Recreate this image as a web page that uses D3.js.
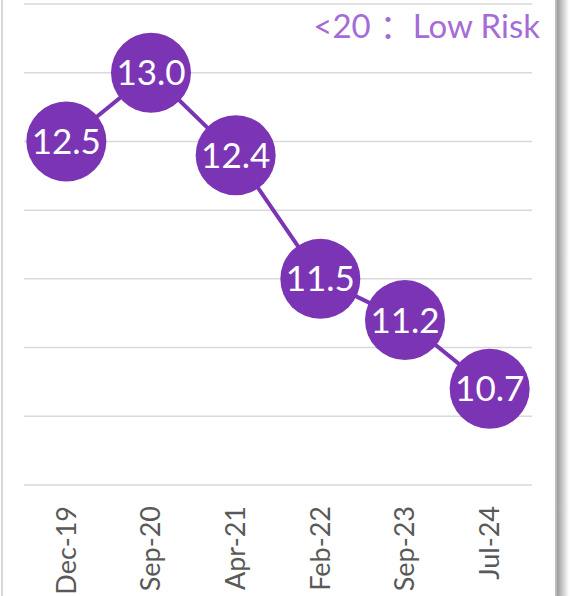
<!DOCTYPE html>
<html>
<head>
<meta charset="utf-8">
<script src="https://cdn.jsdelivr.net/npm/d3@7"></script>
<style>
  body { margin: 0; background: #fff; }
  svg { display: block; font-family: Lato, "Open Sans", sans-serif; }
</style>
</head>
<body>
<svg width="572" height="596"></svg>
<script>
const categories = ['Dec-19', 'Sep-20', 'Apr-21', 'Feb-22', 'Sep-23', 'Jul-24'];
const values = [12.5, 13.0, 12.4, 11.5, 11.2, 10.7];
const yTicks = [10, 10.5, 11, 11.5, 12, 12.5, 13, 13.5];
const notePrefix = '<20';
const noteColon = '\uFF1A';
const noteLabel = 'Low Risk';

const data = categories.map((c, i) => ({ cat: c, value: values[i] }));

const svg = d3.select('svg');
const width = +svg.attr('width');
const height = +svg.attr('height');

const margin = { top: 4, right: 40, bottom: 111, left: 24 };
const innerWidth = width - margin.left - margin.right;
const innerHeight = height - margin.top - margin.bottom;

// frame: light left edge, darker right edge with shadow
const shadow = svg.append('defs').append('linearGradient').attr('id', 'shadow');
shadow.append('stop').attr('offset', '0%').attr('stop-color', '#9a9a9a');
shadow.append('stop').attr('offset', '100%').attr('stop-color', '#ffffff');
svg.append('rect').attr('x', 557).attr('y', 0).attr('width', 12).attr('height', height)
    .attr('fill', 'url(#shadow)');
svg.append('line').attr('x1', 2).attr('x2', 2).attr('y1', 0).attr('y2', height)
    .attr('stroke', '#d9d9d9').attr('stroke-width', 2);
svg.append('line').attr('x1', 556).attr('x2', 556).attr('y1', 0).attr('y2', height)
    .attr('stroke', '#bcbcbc').attr('stroke-width', 2);

const g = svg.append('g')
    .attr('transform', `translate(${margin.left}, ${margin.top})`);

const xScale = d3.scaleBand()
    .domain(categories)
    .range([0, innerWidth]);

const yScale = d3.scaleLinear()
    .domain([10, 13.5])
    .range([innerHeight, 0]);

// gridlines
g.append('g')
    .selectAll('line')
    .data(yTicks)
    .join('line')
    .attr('x1', 0)
    .attr('x2', innerWidth)
    .attr('y1', d => yScale(d))
    .attr('y2', d => yScale(d))
    .attr('stroke', '#d9d9d9')
    .attr('stroke-width', 1.5);

// x axis labels
const xAxisG = g.append('g')
    .attr('transform', `translate(0, ${innerHeight})`)
    .call(d3.axisBottom(xScale).tickSize(0));
xAxisG.select('.domain').remove();
xAxisG.selectAll('text')
    .attr('transform', 'rotate(-90)')
    .attr('x', -21)
    .attr('y', 0)
    .attr('dy', '0.35em')
    .style('text-anchor', 'end')
    .style('font-family', 'Lato, "Open Sans", sans-serif')
    .style('font-size', '27px')
    .attr('fill', '#595959');

const purple = '#7b35b4';

const lineGenerator = d3.line()
    .x(d => xScale(d.cat) + xScale.bandwidth() / 2)
    .y(d => yScale(d.value));

g.append('path')
    .attr('d', lineGenerator(data))
    .attr('stroke', purple)
    .attr('stroke-width', 4)
    .style('fill', 'none');

const points = g.append('g')
    .selectAll('g')
    .data(data)
    .join('g')
    .attr('transform', d => `translate(${xScale(d.cat) + xScale.bandwidth() / 2}, ${yScale(d.value)})`);

points.append('circle')
    .attr('r', 40)
    .attr('fill', purple);

points.append('text')
    .text(d => d.value.toFixed(1))
    .attr('text-anchor', 'middle')
    .attr('dy', '0.36em')
    .attr('fill', '#fff')
    .style('font-size', '35px');

const noteText = svg.append('text')
    .attr('x', 540)
    .attr('y', 38)
    .attr('text-anchor', 'end')
    .attr('fill', '#a66bd6')
    .style('font-size', '33px');
noteText.append('tspan').text(notePrefix);
noteText.append('tspan').attr('dx', 9).style('font-family', '"Noto Sans CJK SC", sans-serif').text(noteColon);
noteText.append('tspan').text(noteLabel);
</script>
</body>
</html>
